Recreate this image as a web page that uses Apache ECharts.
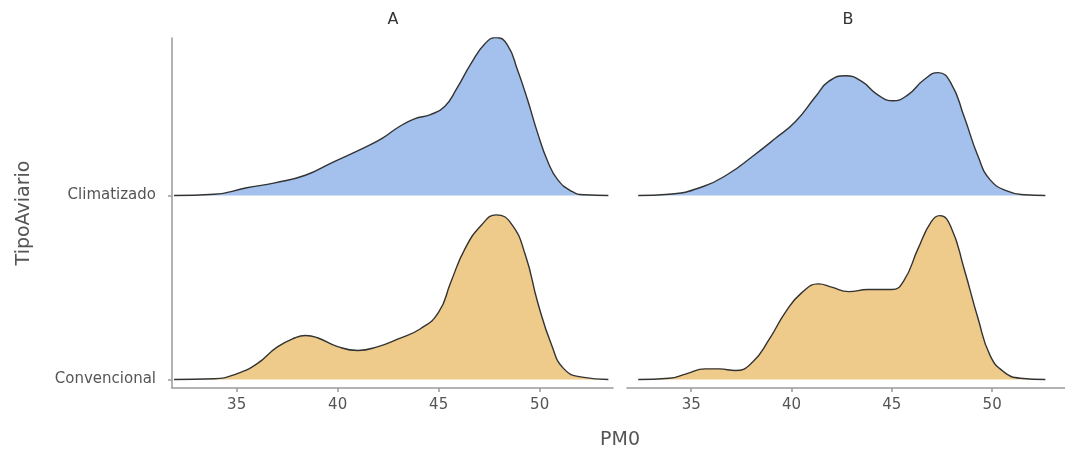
<!DOCTYPE html>
<html>
<head>
<meta charset="utf-8">
<script src="https://cdn.jsdelivr.net/npm/echarts@6/dist/echarts.min.js"></script>
<style>html,body{margin:0;padding:0;background:#fff}#c{width:1065px;height:452px}</style>
</head>
<body>
<div id="c"></div>
<script>
// Facets and categories
const facets = ['A', 'B'];
const categories = ['Convencional', 'Climatizado'];
const xTicks = [35, 40, 45, 50];
const xTitle = 'PM0';
const yTitle = 'TipoAviario';

// Ridge heights (fraction of row spacing)
const aClimX = [31.9, 33.9, 35.5, 36.9, 38.4, 39.7, 41.3, 42.2, 43.0, 43.8, 44.6, 45.3, 45.9, 46.6, 47.3, 47.85, 48.4, 48.9, 49.4, 49.9, 50.4, 50.9, 51.6, 52.2, 53.4];
const aClimY = [0, .007, .042, .069, .110, .178, .259, .310, .371, .417, .440, .484, .582, .717, .826, .859, .819, .683, .520, .339, .185, .085, .022, .004, 0];

const aConvX = [31.9, 33.9, 35.0, 36.0, 37.0, 37.9, 38.4, 39.0, 40.0, 41.0, 42.0, 43.0, 44.1, 45.0, 45.6, 46.3, 47.1, 47.85, 48.6, 49.3, 49.9, 50.6, 51.2, 52.1, 53.4];
const aConvY = [0, .004, .031, .085, .176, .227, .239, .227, .179, .158, .179, .221, .276, .366, .529, .710, .837, .895, .846, .674, .420, .185, .058, .013, 0];

const bClimX = [32.36, 33.9, 35.6, 36.9, 38.05, 39.2, 40.2, 41.2, 41.85, 42.7, 43.5, 44.3, 45.05, 45.8, 46.6, 47.3, 47.95, 48.6, 49.3, 49.9, 50.8, 51.6, 52.65];
const bClimY = [0, .007, .049, .121, .212, .311, .402, .538, .620, .651, .620, .547, .515, .547, .629, .668, .610, .429, .212, .085, .022, .004, 0];

const bConvX = [32.36, 33.9, 34.75, 35.7, 36.4, 37.2, 38.05, 38.9, 39.7, 40.5, 41.35, 42.0, 42.85, 43.8, 45.0, 45.6, 46.3, 46.95, 47.4, 47.95, 48.6, 49.3, 49.9, 50.6, 51.4, 52.65];
const bConvY = [0, .007, .031, .058, .058, .049, .094, .221, .366, .471, .520, .502, .478, .489, .489, .538, .710, .855, .891, .828, .602, .330, .130, .040, .007, 0];

const fills = { Climatizado: '#a3c1ec', Convencional: '#eecb8a' };

function pts(xs, ys, base) { return xs.map((x, i) => [x, base + ys[i]]); }

const axisGray = '#9a9a9a';
const textGray = '#555555';
const font = 'DejaVu Sans';

const grids = [
  { left: 172, top: 38, width: 441, height: 350 },
  { left: 627, top: 38, width: 441, height: 350 }
];

const xAxes = grids.map((g, i) => ({
  type: 'value', gridIndex: i, min: 31.8, max: 53.63,
  axisLine: { show: true, onZero: false, lineStyle: { color: axisGray, width: 1.5 } },
  axisTick: { show: true, length: 4, customValues: xTicks, lineStyle: { color: axisGray, width: 1.5 } },
  axisLabel: { customValues: xTicks, color: textGray, fontFamily: font, fontSize: 15, margin: 10 },
  splitLine: { show: false }
}));

const yAxes = grids.map((g, i) => ({
  type: 'value', gridIndex: i, min: -0.046, max: 1.856,
  show: i === 0,
  axisLine: { show: true, onZero: false, lineStyle: { color: axisGray, width: 1.5 } },
  axisTick: { show: true, length: 4, customValues: [0, 1], lineStyle: { color: axisGray, width: 1.5 } },
  axisLabel: { customValues: [0, 1], color: textGray, fontFamily: font, fontSize: 15, margin: 16,
    formatter: v => categories[Math.round(v)] },
  splitLine: { show: false }
}));

function ridge(name, xs, ys, base, gi) {
  return {
    type: 'line', name: name, xAxisIndex: gi, yAxisIndex: gi,
    data: pts(xs, ys, base), smooth: 0.5, showSymbol: false, silent: true,
    lineStyle: { color: '#333333', width: 1.4 },
    areaStyle: { color: fills[name], opacity: 1, origin: base }
  };
}

const series = [
  ridge('Climatizado', aClimX, aClimY, 1, 0),
  ridge('Convencional', aConvX, aConvY, 0, 0),
  ridge('Climatizado', bClimX, bClimY, 1, 1),
  ridge('Convencional', bConvX, bConvY, 0, 1)
];

const chart = echarts.init(document.getElementById('c'));
chart.setOption({
  animation: false,
  backgroundColor: '#ffffff',
  grid: grids,
  xAxis: xAxes,
  yAxis: yAxes,
  series: series,
  graphic: [
    { type: 'text', x: 393, y: 20, style: { text: facets[0], fill: '#333', font: '16px "DejaVu Sans"', textAlign: 'center', textVerticalAlign: 'middle' } },
    { type: 'text', x: 848, y: 20, style: { text: facets[1], fill: '#333', font: '16px "DejaVu Sans"', textAlign: 'center', textVerticalAlign: 'middle' } },
    { type: 'text', x: 620, y: 440, style: { text: xTitle, fill: textGray, font: '19px "DejaVu Sans"', textAlign: 'center', textVerticalAlign: 'middle' } },
    { type: 'text', x: 24, y: 213, rotation: Math.PI / 2, style: { text: yTitle, fill: textGray, font: '19px "DejaVu Sans"', textAlign: 'center', textVerticalAlign: 'middle' } }
  ]
});
</script>
</body>
</html>
